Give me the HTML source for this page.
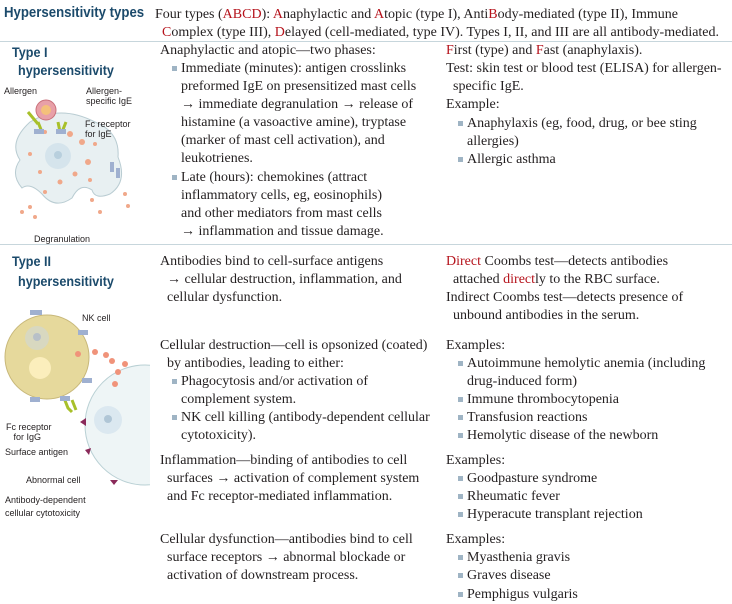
<!DOCTYPE html>
<html><head><meta charset="utf-8"><style>
body{margin:0;width:732px;height:604px;background:#fff;position:relative;overflow:hidden;font-family:"Liberation Serif",serif;color:#231f20}
.t{position:absolute;font-size:14px;line-height:18px;white-space:nowrap}
.r{color:#b5121b}
.h{position:absolute;font-family:"Liberation Sans",sans-serif;font-weight:bold;color:#1b4a6b;font-size:14px;white-space:nowrap;transform:scaleX(0.9);transform-origin:left top}
.b{position:absolute;width:5px;height:5px;background:#9fb4c4}
.sep{position:absolute;left:0;width:732px;height:1px;background:#c7d6dc}
.lab{position:absolute;font-family:"Liberation Sans",sans-serif;font-size:9px;line-height:10px;color:#231f20;white-space:nowrap}
</style></head><body>
<div class="h" style="left:4px;top:4px;font-size:15px;transform:scaleX(0.88)">Hypersensitivity types</div>
<div class="t" style="left:155px;top:6px">Four types (<span class="r">ABCD</span>): <span class="r">A</span>naphylactic and <span class="r">A</span>topic (type I), Anti<span class="r">B</span>ody-mediated (type II), Immune</div>
<div class="t" style="left:162px;top:24px"><span class="r">C</span>omplex (type III), <span class="r">D</span>elayed (cell-mediated, type IV). Types I, II, and III are all antibody-mediated.</div>
<div class="sep" style="top:41px"></div>

<div class="h" style="left:12px;top:44px">Type I</div>
<div class="h" style="left:18px;top:62px">hypersensitivity</div>
<svg style="position:absolute;left:0;top:82px" width="150" height="160">
<path d="M30 40 Q60 22 95 40 Q120 50 118 75 Q128 100 110 112 Q95 118 92 108 Q80 100 72 116 Q55 128 42 112 Q30 100 22 106 Q10 92 20 78 Q8 60 30 40Z" fill="#e8f0f2" stroke="#b9ccd2"/>
<circle cx="58" cy="74" r="13" fill="#d5e4ec"/><circle cx="58" cy="73" r="4" fill="#b8cfdd"/>
<g fill="#f0a88a"><circle cx="70" cy="52" r="3"/><circle cx="82" cy="60" r="3"/><circle cx="45" cy="50" r="2"/><circle cx="88" cy="80" r="3"/><circle cx="75" cy="92" r="2.5"/><circle cx="40" cy="90" r="2"/><circle cx="90" cy="98" r="2"/><circle cx="60" cy="100" r="2.5"/><circle cx="95" cy="62" r="2"/><circle cx="30" cy="72" r="2"/><circle cx="45" cy="110" r="2"/><circle cx="92" cy="118" r="2"/><circle cx="30" cy="125" r="2"/><circle cx="22" cy="130" r="2"/><circle cx="35" cy="135" r="2"/><circle cx="125" cy="112" r="2"/><circle cx="128" cy="124" r="2"/><circle cx="100" cy="130" r="2"/></g>
<circle cx="46" cy="28" r="10" fill="#e8a0a8" stroke="#c9707a"/><circle cx="46" cy="28" r="5" fill="#f4c07a"/>
<path d="M38 40 L42 50 M58 40 L60 50 M66 40 L62 50 M28 30 L38 42" stroke="#a8c02a" stroke-width="3" fill="none"/>
<rect x="34" y="47" width="10" height="5" fill="#9fb0d0"/><rect x="56" y="47" width="10" height="5" fill="#9fb0d0"/>
<rect x="110" y="80" width="4" height="10" fill="#9fb0d0"/><rect x="116" y="86" width="4" height="10" fill="#9fb0d0"/>
</svg>
<div class="lab" style="left:4px;top:86px">Allergen</div>
<div class="lab" style="left:86px;top:86px">Allergen-<br>specific IgE</div>
<div class="lab" style="left:85px;top:119px">Fc receptor<br>for IgE</div>
<div class="lab" style="left:34px;top:234px">Degranulation</div>

<div class="t" style="left:160px;top:42px">Anaphylactic and atopic—two phases:</div>
<div class="b" style="left:172px;top:66px"></div>
<div class="t" style="left:181px;top:60px">Immediate (minutes): antigen crosslinks<br>preformed IgE on presensitized mast cells<br>→ immediate degranulation → release of<br>histamine (a vasoactive amine), tryptase<br>(marker of mast cell activation), and<br>leukotrienes.</div>
<div class="b" style="left:172px;top:175px"></div>
<div class="t" style="left:181px;top:169px">Late (hours): chemokines (attract<br>inflammatory cells, eg, eosinophils)<br>and other mediators from mast cells<br>→ inflammation and tissue damage.</div>

<div class="t" style="left:446px;top:42px"><span class="r">F</span>irst (type) and <span class="r">F</span>ast (anaphylaxis).<br>Test: skin test or blood test (ELISA) for allergen-<br>&nbsp;&nbsp;specific IgE.<br>Example:</div>
<div class="b" style="left:458px;top:121px"></div>
<div class="t" style="left:467px;top:115px">Anaphylaxis (eg, food, drug, or bee sting<br>allergies)</div>
<div class="b" style="left:458px;top:157px"></div>
<div class="t" style="left:467px;top:151px">Allergic asthma</div>

<div class="sep" style="top:244px"></div>

<div class="h" style="left:12px;top:253px">Type II</div>
<div class="h" style="left:18px;top:273px">hypersensitivity</div>
<svg style="position:absolute;left:0;top:300px" width="150" height="200">
<circle cx="47" cy="57" r="42" fill="#e6d99c" stroke="#c8b87a"/>
<circle cx="37" cy="38" r="12" fill="#d8d8c0"/><circle cx="37" cy="37" r="4" fill="#b8c0c8"/>
<circle cx="40" cy="68" r="11" fill="#fbeebc"/>
<circle cx="145" cy="125" r="60" fill="#eef5f6" stroke="#b9d0d4"/>
<circle cx="108" cy="120" r="14" fill="#dbe8f0"/><circle cx="108" cy="119" r="4" fill="#b0c6d6"/>
<g fill="#f0937a"><circle cx="78" cy="54" r="3"/><circle cx="95" cy="52" r="3"/><circle cx="106" cy="55" r="3"/><circle cx="112" cy="61" r="3"/><circle cx="125" cy="64" r="3"/><circle cx="118" cy="72" r="3"/><circle cx="115" cy="84" r="3"/></g>
<path d="M64 98 L68 108 L72 112 M72 100 L76 110" stroke="#a8c02a" stroke-width="3" fill="none"/>
<g fill="#9fb0d0"><rect x="30" y="10" width="12" height="5"/><rect x="78" y="30" width="10" height="5"/><rect x="82" y="78" width="10" height="5"/><rect x="30" y="97" width="10" height="5"/><rect x="60" y="96" width="10" height="5"/></g>
<g fill="#8a2a5a"><path d="M80 122 l6 -4 l0 8z"/><path d="M85 150 l6 -2 l-2 7z"/><path d="M110 180 l8 0 l-4 5z"/></g>
</svg>
<div class="lab" style="left:82px;top:313px">NK cell</div>
<div class="lab" style="left:6px;top:422px">Fc receptor<br>&nbsp;&nbsp;&nbsp;for IgG</div>
<div class="lab" style="left:5px;top:447px">Surface antigen</div>
<div class="lab" style="left:26px;top:475px">Abnormal cell</div>
<div class="lab" style="left:5px;top:494px;line-height:13px">Antibody-dependent<br>cellular cytotoxicity</div>

<div class="t" style="left:160px;top:253px">Antibodies bind to cell-surface antigens<br>&nbsp;&nbsp;→ cellular destruction, inflammation, and<br>&nbsp;&nbsp;cellular dysfunction.</div>
<div class="t" style="left:160px;top:337px">Cellular destruction—cell is opsonized (coated)<br>&nbsp;&nbsp;by antibodies, leading to either:</div>
<div class="b" style="left:172px;top:379px"></div>
<div class="t" style="left:181px;top:373px">Phagocytosis and/or activation of<br>complement system.</div>
<div class="b" style="left:172px;top:415px"></div>
<div class="t" style="left:181px;top:409px">NK cell killing (antibody-dependent cellular<br>cytotoxicity).</div>
<div class="t" style="left:160px;top:452px">Inflammation—binding of antibodies to cell<br>&nbsp;&nbsp;surfaces → activation of complement system<br>&nbsp;&nbsp;and Fc receptor-mediated inflammation.</div>
<div class="t" style="left:160px;top:531px">Cellular dysfunction—antibodies bind to cell<br>&nbsp;&nbsp;surface receptors → abnormal blockade or<br>&nbsp;&nbsp;activation of downstream process.</div>

<div class="t" style="left:446px;top:253px"><span class="r">Direct</span> Coombs test—detects antibodies<br>&nbsp;&nbsp;attached <span class="r">direct</span>ly to the RBC surface.<br>Indirect Coombs test—detects presence of<br>&nbsp;&nbsp;unbound antibodies in the serum.</div>
<div class="t" style="left:446px;top:337px">Examples:</div>
<div class="b" style="left:458px;top:361px"></div>
<div class="t" style="left:467px;top:355px">Autoimmune hemolytic anemia (including<br>drug-induced form)</div>
<div class="b" style="left:458px;top:397px"></div>
<div class="t" style="left:467px;top:391px">Immune thrombocytopenia</div>
<div class="b" style="left:458px;top:415px"></div>
<div class="t" style="left:467px;top:409px">Transfusion reactions</div>
<div class="b" style="left:458px;top:433px"></div>
<div class="t" style="left:467px;top:427px">Hemolytic disease of the newborn</div>
<div class="t" style="left:446px;top:452px">Examples:</div>
<div class="b" style="left:458px;top:476px"></div>
<div class="t" style="left:467px;top:470px">Goodpasture syndrome</div>
<div class="b" style="left:458px;top:494px"></div>
<div class="t" style="left:467px;top:488px">Rheumatic fever</div>
<div class="b" style="left:458px;top:512px"></div>
<div class="t" style="left:467px;top:506px">Hyperacute transplant rejection</div>
<div class="t" style="left:446px;top:531px">Examples:</div>
<div class="b" style="left:458px;top:555px"></div>
<div class="t" style="left:467px;top:549px">Myasthenia gravis</div>
<div class="b" style="left:458px;top:573px"></div>
<div class="t" style="left:467px;top:567px">Graves disease</div>
<div class="b" style="left:458px;top:592px"></div>
<div class="t" style="left:467px;top:586px">Pemphigus vulgaris</div>
</body></html>
